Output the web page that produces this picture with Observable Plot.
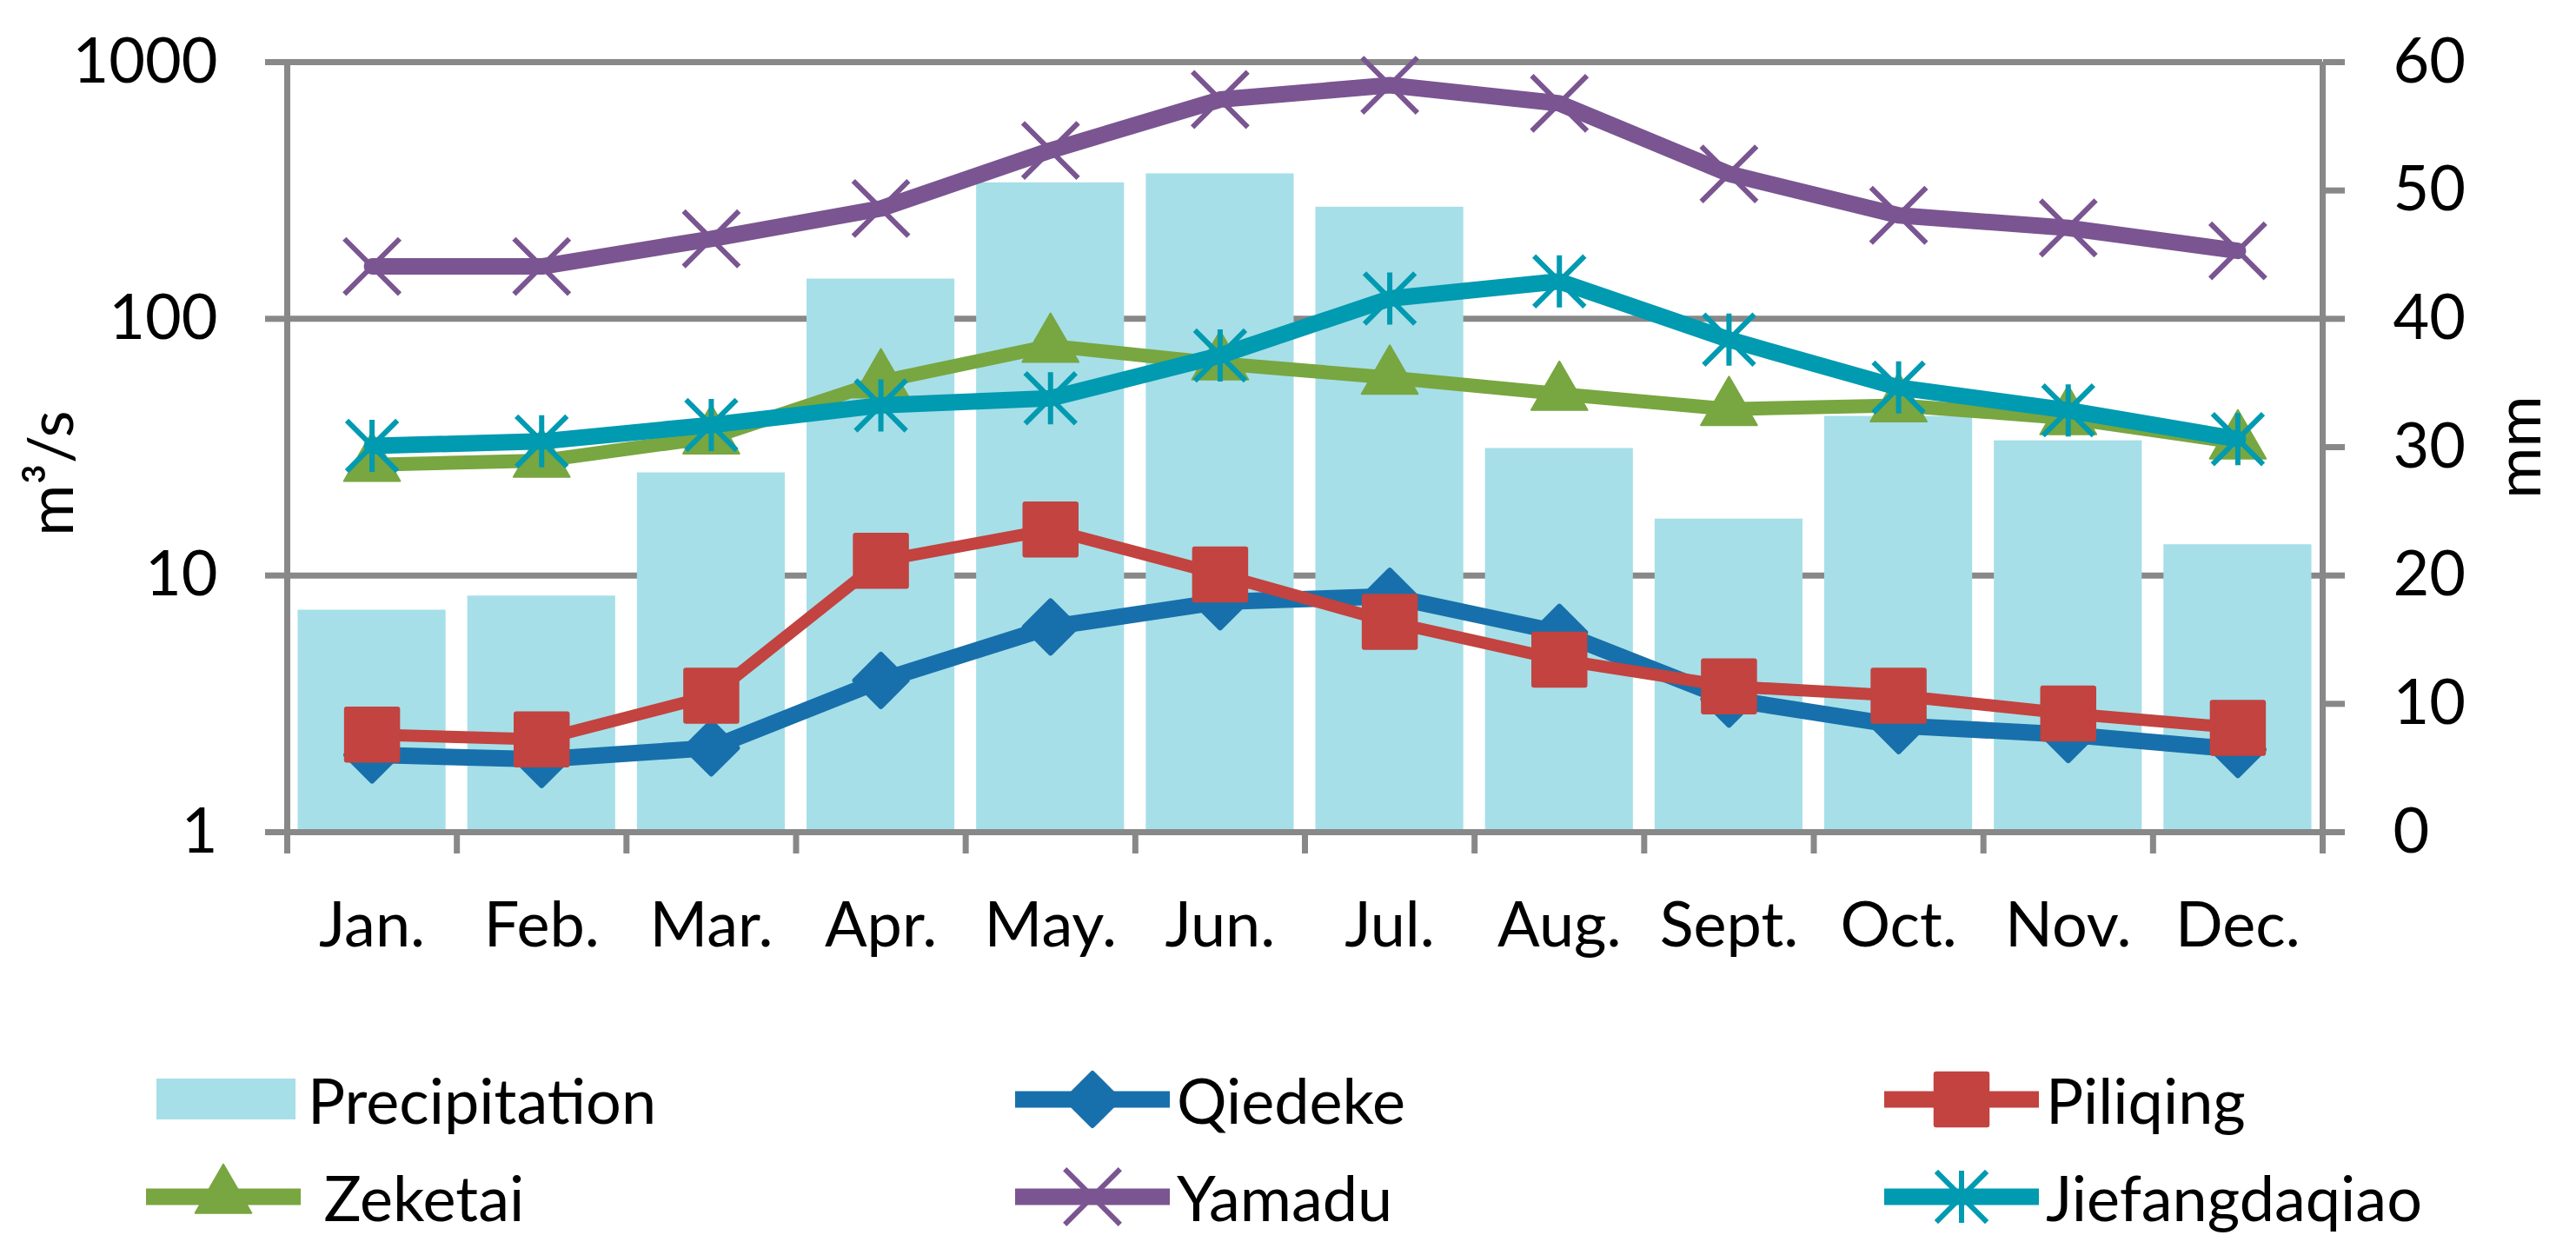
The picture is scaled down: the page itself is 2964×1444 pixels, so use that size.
<!DOCTYPE html>
<html>
<head>
<meta charset="utf-8">
<script src="https://cdn.jsdelivr.net/npm/d3@7"></script>
<script src="https://cdn.jsdelivr.net/npm/@observablehq/plot@0.6"></script>
<style>
  html, body { margin: 0; padding: 0; background: #fff; }
  #wrap { position: relative; width: 2964px; height: 1444px; font-family: Lato, "Open Sans", sans-serif; color: #000; overflow: hidden; }
  #wrap > svg { position: absolute; left: 0; top: 0; }
  .leg { position: absolute; display: flex; align-items: center; font-size: 72px; line-height: 1; white-space: pre; }
  .leg svg { display: block; margin-right: 8px; }
</style>
</head>
<body>
<div id="wrap"></div>
<script>
// ---------- data ----------
const months = ["Jan.", "Feb.", "Mar.", "Apr.", "May.", "Jun.", "Jul.", "Aug.", "Sept.", "Oct.", "Nov.", "Dec."];
const precipitation = [17.3, 18.4, 28.0, 43.1, 50.6, 51.3, 48.7, 29.9, 24.4, 32.4, 30.5, 22.4]; // mm
const qiedeke       = [2.0, 1.92, 2.13, 3.9, 6.3, 7.9, 8.3, 6.0, 3.3, 2.6, 2.4, 2.1];       // m3/s
const piliqing      = [2.4, 2.3, 3.4, 11.4, 15.1, 10.1, 6.6, 4.7, 3.7, 3.4, 2.9, 2.55];
const zeketai       = [27, 28, 34.5, 57, 78.5, 67, 59, 51, 44.5, 46, 41, 33];
const yamadu        = [160, 160, 205, 269, 453, 715, 813, 691, 367, 253, 226, 184];
const jiefangdaqiao = [32, 33.3, 38.6, 46, 49, 72, 120, 140, 83, 54, 44, 34];
const leftTicks  = [1, 10, 100, 1000];
const rightTicks = [0, 10, 20, 30, 40, 50, 60];
const seriesNames = ["Qiedeke", "Piliqing", "Zeketai", "Yamadu", "Jiefangdaqiao"];
const seriesValues = [qiedeke, piliqing, zeketai, yamadu, jiefangdaqiao];

// ---------- styles ----------
// asterisk with diagonal arms at 45 degrees plus a vertical bar (Excel style)
const starSymbol = {
  draw(context, size) {
    const r = Math.sqrt(size / Math.PI);
    const k = r * 0.97;
    context.moveTo(0, -r); context.lineTo(0, r);
    context.moveTo(-k, -k); context.lineTo(k, k);
    context.moveTo(-k, k); context.lineTo(k, -k);
  }
};
const styles = {
  Qiedeke:       {color: "#1770ab", symbol: d3.symbolDiamond2, r: 27, width: 19, filled: true, outline: 6},
  Piliqing:      {color: "#c2433f", symbol: d3.symbolSquare,   r: 33, width: 14, filled: true, outline: 6},
  Zeketai:       {color: "#78a640", symbol: d3.symbolTriangle, r: 24, width: 16, filled: true, outline: 2},
  Yamadu:        {color: "#7a5591", symbol: d3.symbolTimes,    r: 29, width: 19, filled: false},
  Jiefangdaqiao: {color: "#009ab1", symbol: starSymbol,        r: 30, width: 19, filled: false}
};
const barColor = "#a6dfe8";
const axisGray = "#888888";
const gridWidth = 7;

const W = 2964, H = 1130;
const margins = {marginLeft: 330, marginRight: 292, marginTop: 71, marginBottom: 173};
const baseStyle = {fontFamily: "Lato, 'Open Sans', sans-serif", fontSize: "72px", color: "#000", background: "transparent", overflow: "visible"};

const monthIdx = months.map((m, i) => i);
const precipRows = monthIdx.map(i => ({i0: i, i1: i + 1, v: precipitation[i]}));

// ---------- back plot: bars, grid, right axis, month axis ----------
const back = Plot.plot({
  width: W, height: H, ...margins,
  style: baseStyle,
  x: {type: "linear", domain: [0, months.length]},
  y: {type: "linear", domain: [0, 60]},
  marks: [
    Plot.ruleY(rightTicks.filter(t => t % 20 === 0 && t > 0), {stroke: axisGray, strokeWidth: gridWidth}),
    Plot.rectY(precipRows, {x1: "i0", x2: "i1", y1: 0, y2: "v", fill: barColor, insetLeft: 12.5, insetRight: 12.5}),
    Plot.ruleY([0], {stroke: axisGray, strokeWidth: gridWidth}),
    Plot.ruleX([0, months.length], {stroke: axisGray, strokeWidth: gridWidth}),
    Plot.axisY(rightTicks, {anchor: "right", tickSize: 25, tickPadding: 56, stroke: axisGray, strokeWidth: gridWidth,
      tickFormat: d => String(d), fontSize: 72, label: "mm", labelAnchor: "center", labelArrow: "none", labelOffset: 250}),
    Plot.axisX(d3.range(months.length + 1), {tickSize: 25, stroke: axisGray, strokeWidth: gridWidth, tickFormat: () => "", label: null}),
    Plot.axisX(monthIdx.map(i => i + 0.5), {tickSize: 0, tickPadding: 80, tickFormat: d => months[Math.round(d - 0.5)], fontSize: 72, label: null})
  ]
});

// ---------- front plot: discharge lines, left log axis ----------
const lineMarks = [];
seriesNames.forEach((name, k) => {
  const st = styles[name];
  const rows = monthIdx.map(i => ({x: i + 0.5, v: seriesValues[k][i]}));
  lineMarks.push(Plot.line(rows, {x: "x", y: "v", stroke: st.color, strokeWidth: st.width, strokeLinejoin: "round", strokeLinecap: "round"}));
  lineMarks.push(Plot.dot(rows, {x: "x", y: "v", symbol: st.symbol, r: st.r,
    fill: st.filled ? st.color : "none", stroke: st.color, strokeWidth: st.filled ? st.outline : 6,
    strokeLinejoin: "round"}));
});

const front = Plot.plot({
  width: W, height: H, ...margins,
  style: baseStyle,
  x: {type: "linear", domain: [0, months.length], axis: null},
  y: {type: "log", domain: [1, 1000]},
  marks: [
    Plot.axisY(leftTicks, {anchor: "left", tickSize: 25, tickPadding: 55, stroke: axisGray, strokeWidth: gridWidth,
      tickFormat: d => String(d), fontSize: 72, label: null}),
    Plot.text(["m³/s"], {frameAnchor: "left", rotate: -90, dx: -270, dy: 30, fontSize: 72,
      textAnchor: "middle", lineAnchor: "middle", fill: "#000"}),
    ...lineMarks
  ]
});

const wrap = document.getElementById("wrap");
wrap.appendChild(back);
wrap.appendChild(front);

// ---------- legend ----------
function swatchSvg(name) {
  const NS = "http://www.w3.org/2000/svg";
  const svg = document.createElementNS(NS, "svg");
  svg.setAttribute("width", 178); svg.setAttribute("height", 90);
  if (name === "Precipitation") {
    const r = document.createElementNS(NS, "rect");
    r.setAttribute("x", 12); r.setAttribute("y", 21); r.setAttribute("width", 160); r.setAttribute("height", 47);
    r.setAttribute("fill", barColor); svg.appendChild(r);
    return svg;
  }
  const st = styles[name];
  const l = document.createElementNS(NS, "line");
  l.setAttribute("x1", 0); l.setAttribute("x2", 178); l.setAttribute("y1", 45); l.setAttribute("y2", 45);
  l.setAttribute("stroke", st.color); l.setAttribute("stroke-width", 19); l.setAttribute("stroke-linecap", "round");
  svg.appendChild(l);
  const p = document.createElementNS(NS, "path");
  p.setAttribute("d", d3.symbol(st.symbol, Math.PI * st.r * st.r)());
  p.setAttribute("transform", "translate(89,45)");
  p.setAttribute("stroke", st.color);
  p.setAttribute("stroke-linejoin", "round");
  if (st.filled) { p.setAttribute("fill", st.color); p.setAttribute("stroke-width", st.outline); }
  else { p.setAttribute("fill", "none"); p.setAttribute("stroke-width", 6); }
  svg.appendChild(p);
  return svg;
}
const legendItems = [
  {name: "Precipitation", label: "Precipitation", left: 168, top: 1220},
  {name: "Qiedeke", label: "Qiedeke", left: 1168, top: 1220},
  {name: "Piliqing", label: "Piliqing", left: 2168, top: 1220},
  {name: "Zeketai", label: " Zeketai", left: 168, top: 1332},
  {name: "Yamadu", label: "Yamadu", left: 1168, top: 1332},
  {name: "Jiefangdaqiao", label: "Jiefangdaqiao", left: 2168, top: 1332}
];
legendItems.forEach(it => {
  const d = document.createElement("div");
  d.className = "leg";
  d.style.left = it.left + "px"; d.style.top = it.top + "px";
  d.appendChild(swatchSvg(it.name));
  const s = document.createElement("span");
  s.textContent = it.label;
  d.appendChild(s);
  wrap.appendChild(d);
});
</script>
</body>
</html>
